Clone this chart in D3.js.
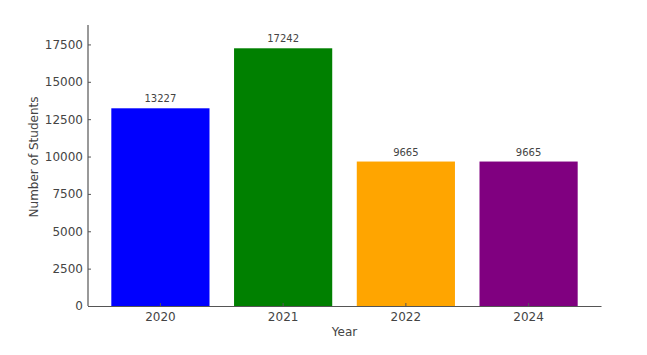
<!DOCTYPE html>
<html><head><meta charset="utf-8">
<script src="https://cdn.jsdelivr.net/npm/d3@7"></script>
<style>body{margin:0;background:#fff}svg{display:block}text{font-family:"DejaVu Sans",sans-serif}</style>
</head><body>
<script>
const years = ["2020","2021","2022","2024"];
const students = [13227, 17242, 9665, 9665];
const colors = ["#0000ff","#008000","#ffa500","#800080"];
const yTicks = [0,2500,5000,7500,10000,12500,15000,17500];

const W=647,H=355;
const m={left:88,right:46,top:25,bottom:49};
const svg=d3.select("body").append("svg").attr("width",W).attr("height",H);
const x=d3.scaleBand().domain(years).range([m.left,W-m.right]).paddingInner(0.2).paddingOuter(0.19);
const y=d3.scaleLinear().domain([0,18800]).range([H-m.bottom,m.top]);
const txt="#444";

svg.selectAll("rect.bar").data(years).join("rect").attr("class","bar")
  .attr("x",d=>x(d)).attr("width",x.bandwidth())
  .attr("y",(d,i)=>y(students[i])).attr("height",(d,i)=>y(0)-y(students[i]))
  .attr("fill",(d,i)=>colors[i]);

svg.selectAll("text.val").data(years).join("text").attr("class","val")
  .attr("x",d=>x(d)+x.bandwidth()/2).attr("y",(d,i)=>y(students[i])-6)
  .attr("text-anchor","middle").attr("font-size",10).attr("fill",txt)
  .text((d,i)=>students[i]);

const ya=svg.append("g").attr("transform",`translate(${m.left},0)`)
  .call(d3.axisLeft(y).tickValues(yTicks).tickFormat(d3.format("d")).tickSizeInner(-3).tickSizeOuter(0).tickPadding(5));
const xa=svg.append("g").attr("transform",`translate(0,${H-m.bottom})`)
  .call(d3.axisBottom(x).tickSizeInner(-3).tickSizeOuter(0).tickPadding(6));
[ya,xa].forEach(g=>{
  g.attr("font-family","DejaVu Sans");
  g.select(".domain").attr("stroke","#555").attr("stroke-width",1.2);
  g.selectAll(".tick line").attr("stroke","#555");
  g.selectAll(".tick text").attr("font-size",12).attr("fill",txt);
});
ya.select(".domain").attr("d",`M0,${y(0)}V${m.top}`);

svg.append("text").attr("x",(m.left+W-m.right)/2).attr("y",336).attr("text-anchor","middle")
  .attr("font-size",12).attr("fill",txt).text("Year");
svg.append("text").attr("transform","translate(38,157) rotate(-90)").attr("text-anchor","middle")
  .attr("font-size",12).attr("fill",txt).text("Number of Students");
</script>
</body></html>
